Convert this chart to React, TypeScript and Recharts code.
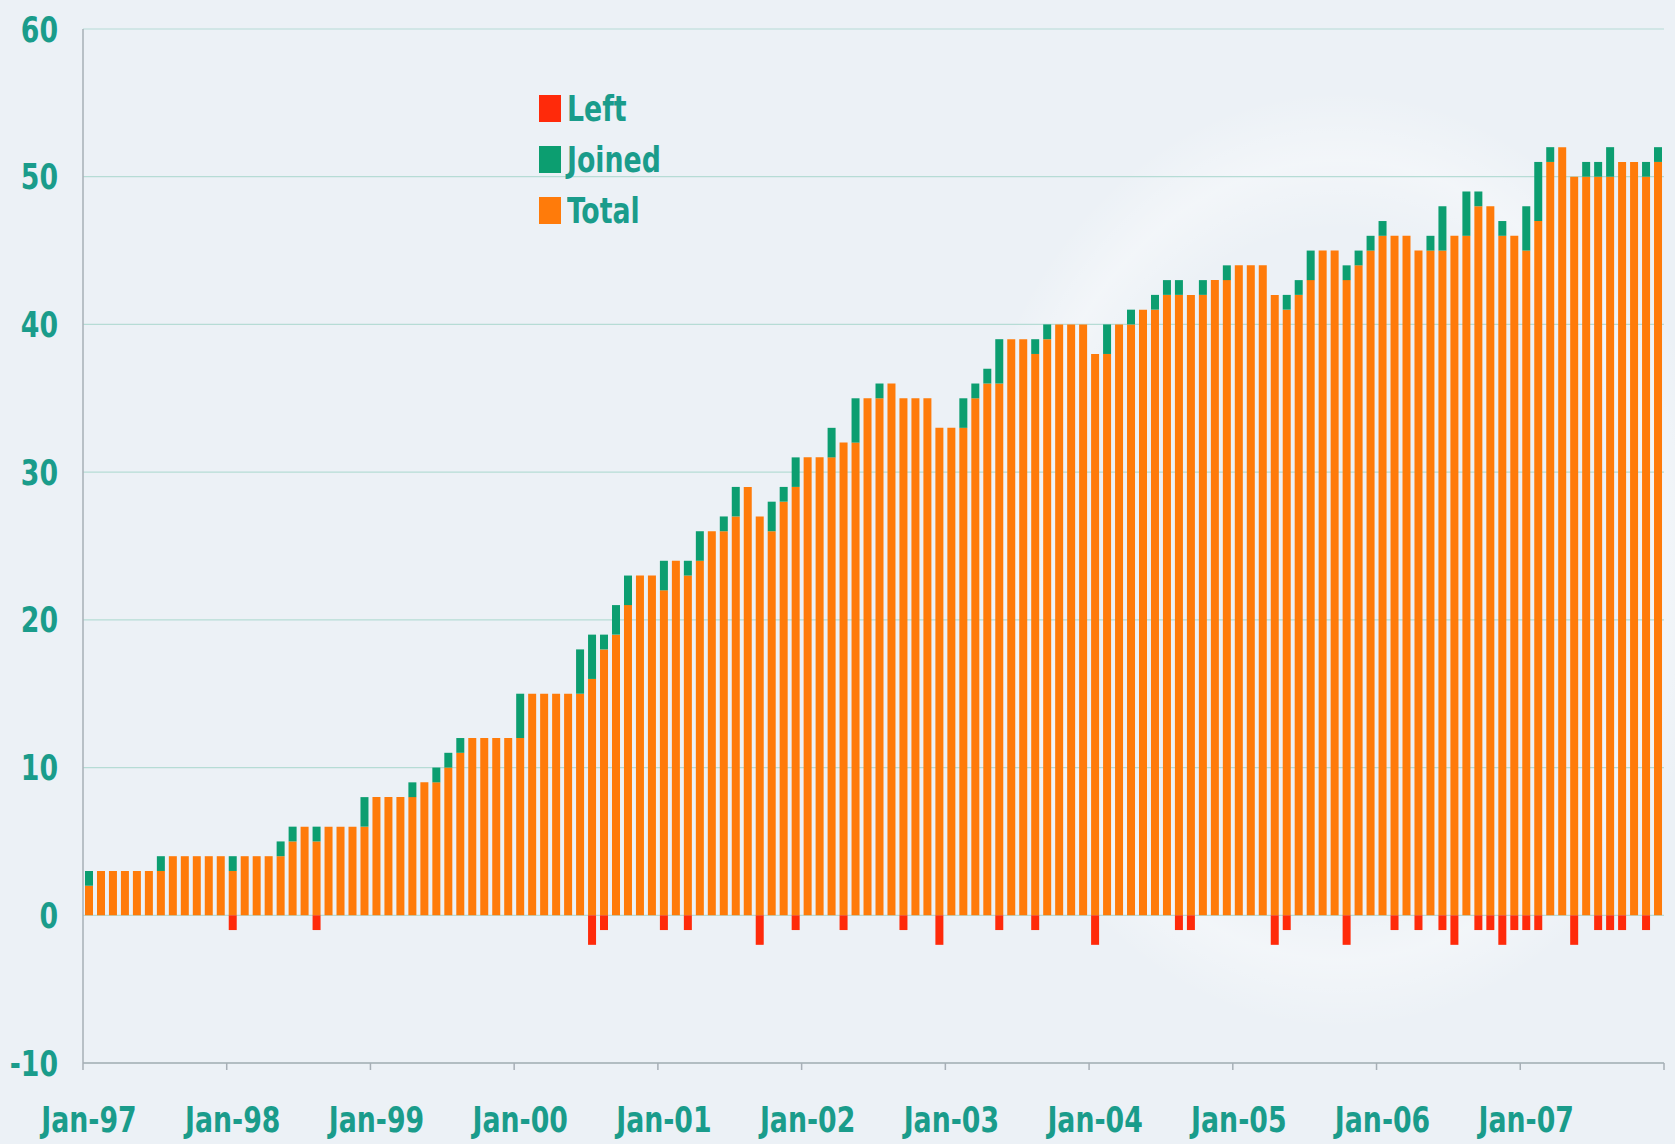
import React from "react";
import { BarChart, Bar, XAxis, YAxis, CartesianGrid, Legend } from "recharts";

const TEAL = "#1a9c8b";
const ORANGE = "#ff7b0a";
const GREEN = "#0c9e70";
const RED = "#ff2a0a";
const AXIS = "#a7afb6";
const FONT = "'Liberation Sans Narrow', 'DejaVu Sans Condensed', Arial, sans-serif";
const FONT_SIZE = 35;
const SQUEEZE = 0.85;

const YEARS = ["97", "98", "99", "00", "01", "02", "03", "04", "05", "06", "07"];
const MONTHS = ["Jan", "Feb", "Mar", "Apr", "May", "Jun", "Jul", "Aug", "Sep", "Oct", "Nov", "Dec"];

// orange part (members carried over)
const totals = [
  2, 3, 3, 3, 3, 3, 3, 4, 4, 4, 4, 4,
  3, 4, 4, 4, 4, 5, 6, 5, 6, 6, 6, 6,
  8, 8, 8, 8, 9, 9, 10, 11, 12, 12, 12, 12,
  12, 15, 15, 15, 15, 15, 16, 18, 19, 21, 23, 23,
  22, 24, 23, 24, 26, 26, 27, 29, 27, 26, 28, 29,
  31, 31, 31, 32, 32, 35, 35, 36, 35, 35, 35, 33,
  33, 33, 35, 36, 36, 39, 39, 38, 39, 40, 40, 40,
  38, 38, 40, 40, 41, 41, 42, 42, 42, 42, 43, 43,
  44, 44, 44, 42, 41, 42, 43, 45, 45, 43, 44, 45,
  46, 46, 46, 45, 45, 45, 46, 46, 48, 48, 46, 46,
  45, 47, 51, 52, 50, 50, 50, 50, 51, 51, 50, 51,
];

const joined = [
  1, 0, 0, 0, 0, 0, 1, 0, 0, 0, 0, 0,
  1, 0, 0, 0, 1, 1, 0, 1, 0, 0, 0, 2,
  0, 0, 0, 1, 0, 1, 1, 1, 0, 0, 0, 0,
  3, 0, 0, 0, 0, 3, 3, 1, 2, 2, 0, 0,
  2, 0, 1, 2, 0, 1, 2, 0, 0, 2, 1, 2,
  0, 0, 2, 0, 3, 0, 1, 0, 0, 0, 0, 0,
  0, 2, 1, 1, 3, 0, 0, 1, 1, 0, 0, 0,
  0, 2, 0, 1, 0, 1, 1, 1, 0, 1, 0, 1,
  0, 0, 0, 0, 1, 1, 2, 0, 0, 1, 1, 1,
  1, 0, 0, 0, 1, 3, 0, 3, 1, 0, 1, 0,
  3, 4, 1, 0, 0, 1, 1, 2, 0, 0, 1, 1,
];

const left = [
  0, 0, 0, 0, 0, 0, 0, 0, 0, 0, 0, 0,
  1, 0, 0, 0, 0, 0, 0, 1, 0, 0, 0, 0,
  0, 0, 0, 0, 0, 0, 0, 0, 0, 0, 0, 0,
  0, 0, 0, 0, 0, 0, 2, 1, 0, 0, 0, 0,
  1, 0, 1, 0, 0, 0, 0, 0, 2, 0, 0, 1,
  0, 0, 0, 1, 0, 0, 0, 0, 1, 0, 0, 2,
  0, 0, 0, 0, 1, 0, 0, 1, 0, 0, 0, 0,
  2, 0, 0, 0, 0, 0, 0, 1, 1, 0, 0, 0,
  0, 0, 0, 2, 1, 0, 0, 0, 0, 2, 0, 0,
  0, 1, 0, 1, 0, 1, 2, 0, 1, 1, 2, 1,
  1, 1, 0, 0, 2, 0, 1, 1, 1, 0, 1, 0,
];

const yTicks = [-10, 0, 10, 20, 30, 40, 50, 60];

const legendItems = [
  { name: "Left", color: RED },
  { name: "Joined", color: GREEN },
  { name: "Total", color: ORANGE },
];

const data = totals.map((t, i) => ({
  month: `${MONTHS[i % 12]}-${YEARS[Math.floor(i / 12)]}`,
  total: t,
  joined: joined[i],
  left: -left[i],
}));

const xTicks = data.filter((d, i) => i % 12 === 0 || i === data.length - 1).map((d) => d.month);

// narrow bold label, squeezed horizontally like the original condensed font
function Label({ x, y, anchor, children }: any) {
  return (
    <text
      transform={`translate(${x},${y}) scale(${SQUEEZE},1)`}
      textAnchor={anchor}
      fill={TEAL}
      fontSize={FONT_SIZE}
      fontWeight="bold"
      fontFamily={FONT}
    >
      {children}
    </text>
  );
}

function XTick(props: any) {
  const { x, y, payload } = props;
  const isLast = payload.value === data[data.length - 1].month;
  const lx = isLast ? x + 6 : x - 6;
  return (
    <g>
      <line x1={lx} y1={y} x2={lx} y2={y + 7} stroke={AXIS} strokeWidth={1.5} />
      {!isLast && (
        <Label x={x} y={y + 69} anchor="middle">
          {payload.value}
        </Label>
      )}
    </g>
  );
}

function YTick(props: any) {
  const { x, y, payload } = props;
  return (
    <Label x={x} y={y + 12.5} anchor="end">
      {payload.value}
    </Label>
  );
}

function LegendBox() {
  return (
    <div>
      {legendItems.map((item) => (
        <div key={item.name} style={{ display: "flex", alignItems: "center", height: 51 }}>
          <div style={{ width: 22, height: 27, background: item.color, marginRight: 6 }} />
          <span
            style={{
              color: TEAL,
              fontSize: FONT_SIZE,
              fontWeight: "bold",
              fontFamily: FONT,
              display: "inline-block",
              transform: `scaleX(${SQUEEZE})`,
              transformOrigin: "left center",
            }}
          >
            {item.name}
          </span>
        </div>
      ))}
    </div>
  );
}

export default function App() {
  return (
    <div
      style={{
        position: "absolute",
        left: 0,
        top: 0,
        width: 1675,
        height: 1144,
        background:
          "radial-gradient(ellipse 380px 470px at 1340px 560px, rgba(255,255,255,0) 70%, rgba(255,255,255,0.35) 85%, rgba(255,255,255,0) 100%), #ecf1f6",
      }}
    >
      <BarChart
        width={1675}
        height={1144}
        data={data}
        stackOffset="sign"
        barSize={8}
        margin={{ top: 29, right: 11, bottom: 0, left: 0 }}
      >
        <CartesianGrid vertical={false} stroke="#b6dcd5" strokeWidth={1.2} />
        <XAxis
          dataKey="month"
          ticks={xTicks}
          interval={0}
          tick={<XTick />}
          tickLine={false}
          tickSize={0}
          tickMargin={0}
          axisLine={{ stroke: AXIS, strokeWidth: 1.5 }}
          height={81}
        />
        <YAxis
          domain={[-10, 60]}
          ticks={yTicks}
          interval={0}
          width={83}
          axisLine={{ stroke: AXIS, strokeWidth: 1.5 }}
          tickLine={false}
          tickSize={6}
          tickMargin={19}
          tick={<YTick />}
        />
        <Legend
          layout="vertical"
          align="center"
          verticalAlign="middle"
          content={<LegendBox />}
          wrapperStyle={{ left: 539, top: 83, width: 200, height: 160 }}
        />
        <Bar dataKey="total" name="Total" stackId="a" fill={ORANGE} isAnimationActive={false} />
        <Bar dataKey="joined" name="Joined" stackId="a" fill={GREEN} isAnimationActive={false} />
        <Bar dataKey="left" name="Left" stackId="a" fill={RED} isAnimationActive={false} />
      </BarChart>
    </div>
  );
}
